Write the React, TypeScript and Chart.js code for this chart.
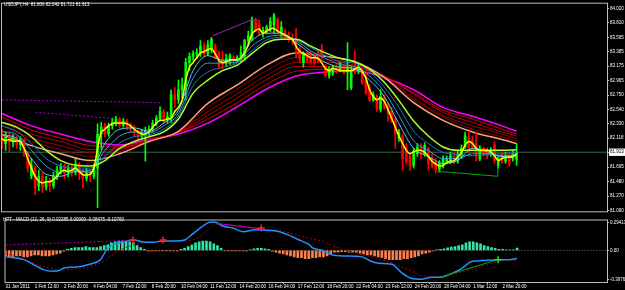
import React, { useEffect, useRef } from "react";
import { Chart, registerables } from "chart.js";

Chart.register(...registerables);

const SYMBOL_TITLE = "USDJPY,H4  81.806 82.042 81.721 81.913";
const MACD_TITLE = "HPT - MACD (12, 26, 9) 0.02285 0.00000 -0.08475 -0.10760";

// ---- H4 candles (bar index 0 = 31 Jan 2011) ----
const OPEN = [
  82.18, 82.04, 82.14, 82.07, 82.12, 82.02, 82.10, 81.89, 81.56, 81.68,
  81.42, 81.56, 81.40, 81.49, 81.42, 81.56, 81.65, 81.71, 81.61, 81.68,
  81.62, 81.74, 81.59, 81.53, 81.61, 81.56, 81.68, 82.18, 82.31, 82.18,
  82.30, 82.35, 82.40, 82.31, 82.37, 82.30, 82.25, 82.20, 82.15, 82.20,
  82.22, 82.25, 82.34, 82.41, 82.51, 82.40, 82.40, 82.76, 82.68, 82.83,
  82.90, 83.23, 83.32, 83.36, 83.37, 83.47, 83.36, 83.43, 83.47, 83.37,
  83.29, 83.23, 83.22, 83.30, 83.26, 83.26, 83.29, 83.55, 83.57, 83.83,
  83.78, 83.65, 83.69, 83.72, 83.78, 83.86, 83.65, 83.69, 83.63, 83.60,
  83.57, 83.43, 83.23, 83.37, 83.36, 83.35, 83.37, 83.43, 83.17, 83.04,
  83.07, 83.16, 83.11, 83.17, 83.09, 82.86, 83.17, 83.09, 83.11, 82.97,
  82.86, 82.68, 82.73, 82.54, 82.71, 82.60, 82.51, 82.40, 82.11, 82.14,
  81.99, 81.85, 81.72, 81.89, 81.99, 81.89, 81.97, 81.82, 81.76, 81.66,
  81.71, 81.78, 81.78, 81.86, 81.79, 81.85, 81.99, 82.14, 82.10, 82.04,
  81.82, 81.97, 81.94, 81.88, 82.02, 81.72, 81.89, 81.78, 81.85, 81.81,
  81.806,
];
const HIGH = [
  82.25, 82.21, 82.20, 82.17, 82.15, 82.14, 82.11, 81.92, 81.82, 81.71,
  81.65, 81.61, 81.56, 81.53, 81.62, 81.71, 81.75, 81.74, 81.72, 81.71,
  81.82, 81.76, 81.65, 81.68, 81.66, 81.74, 82.33, 82.35, 82.34, 82.34,
  82.41, 82.44, 82.43, 82.41, 82.40, 82.34, 82.31, 82.24, 82.25, 82.28,
  82.30, 82.38, 82.45, 82.58, 82.54, 82.50, 82.83, 82.86, 82.97, 83.00,
  83.29, 83.37, 83.40, 83.43, 83.55, 83.52, 83.55, 83.60, 83.50, 83.40,
  83.40, 83.35, 83.36, 83.33, 83.33, 83.47, 83.57, 83.69, 83.90, 83.88,
  83.85, 83.75, 83.78, 83.89, 83.95, 83.89, 83.83, 83.72, 83.68, 83.65,
  83.73, 83.46, 83.39, 83.40, 83.39, 83.37, 83.40, 83.50, 83.20, 83.17,
  83.19, 83.20, 83.23, 83.20, 83.52, 83.17, 83.40, 83.20, 83.14, 83.11,
  82.90, 82.80, 82.76, 82.83, 82.76, 82.64, 82.57, 82.43, 82.25, 82.18,
  82.04, 81.89, 81.97, 82.04, 82.04, 82.05, 81.99, 81.89, 81.82, 81.79,
  81.86, 81.86, 81.91, 81.91, 81.94, 82.02, 82.21, 82.22, 82.15, 82.20,
  82.01, 81.99, 81.98, 81.98, 82.07, 81.85, 81.92, 81.91, 81.89, 81.94,
  82.042,
];
const LOW = [
  81.97, 81.94, 81.92, 81.99, 81.97, 81.94, 81.85, 81.62, 81.52, 81.29,
  81.35, 81.32, 81.36, 81.33, 81.38, 81.51, 81.59, 81.53, 81.55, 81.56,
  81.58, 81.51, 81.39, 81.49, 81.48, 81.52, 81.10, 81.97, 82.14, 82.15,
  82.25, 82.30, 82.27, 82.28, 82.24, 82.20, 82.14, 82.10, 82.11, 81.78,
  82.15, 82.21, 82.30, 82.37, 82.34, 82.34, 82.35, 82.57, 82.63, 82.71,
  82.68, 83.11, 83.26, 83.29, 83.32, 83.32, 83.33, 83.37, 83.29, 83.14,
  83.14, 83.17, 83.20, 83.19, 83.23, 83.23, 83.26, 83.47, 83.55, 83.68,
  83.63, 83.60, 83.65, 83.68, 83.66, 83.66, 83.59, 83.56, 83.53, 83.50,
  83.30, 83.23, 83.16, 83.23, 83.20, 83.19, 83.23, 83.29, 83.01, 83.00,
  83.04, 83.07, 83.09, 83.06, 82.83, 82.83, 83.06, 83.06, 82.91, 82.76,
  82.66, 82.66, 82.51, 82.50, 82.54, 82.37, 82.35, 81.97, 82.07, 81.65,
  81.74, 81.65, 81.68, 81.85, 81.82, 81.85, 81.65, 81.68, 81.61, 81.62,
  81.68, 81.74, 81.74, 81.74, 81.75, 81.82, 81.97, 81.89, 81.97, 81.78,
  81.79, 81.85, 81.82, 81.85, 81.75, 81.68, 81.75, 81.75, 81.71, 81.78,
  81.721,
];
const CLOSE = [
  82.04, 82.14, 82.07, 82.12, 82.02, 82.10, 81.89, 81.68, 81.71, 81.39,
  81.56, 81.39, 81.49, 81.42, 81.56, 81.65, 81.71, 81.61, 81.68, 81.62,
  81.74, 81.59, 81.53, 81.61, 81.56, 81.68, 82.18, 82.28, 82.18, 82.30,
  82.35, 82.40, 82.31, 82.37, 82.30, 82.25, 82.20, 82.15, 82.20, 82.22,
  82.25, 82.34, 82.41, 82.51, 82.40, 82.44, 82.76, 82.68, 82.83, 82.90,
  83.23, 83.32, 83.36, 83.37, 83.47, 83.36, 83.49, 83.57, 83.32, 83.17,
  83.20, 83.29, 83.33, 83.26, 83.30, 83.37, 83.55, 83.62, 83.86, 83.72,
  83.66, 83.70, 83.75, 83.83, 83.92, 83.69, 83.75, 83.60, 83.57, 83.55,
  83.43, 83.29, 83.36, 83.26, 83.23, 83.22, 83.26, 83.32, 83.04, 83.14,
  83.16, 83.10, 83.22, 83.07, 83.16, 83.11, 83.09, 83.16, 82.94, 82.78,
  82.68, 82.76, 82.54, 82.73, 82.57, 82.50, 82.40, 82.18, 82.20, 81.82,
  81.78, 81.71, 81.92, 81.99, 81.88, 82.01, 81.75, 81.72, 81.65, 81.75,
  81.82, 81.82, 81.86, 81.78, 81.89, 81.97, 82.15, 81.97, 81.99, 81.89,
  81.97, 81.89, 81.85, 81.94, 81.79, 81.82, 81.78, 81.86, 81.74, 81.89,
  81.913,
];

// ---- fast moving average (yellow), one value per bar ----
const YELLOW = [
  82.11, 82.08, 82.10, 82.07, 82.08, 82.07, 81.97, 81.82, 81.68, 81.56,
  81.49, 81.46, 81.48, 81.48, 81.51, 81.56, 81.63, 81.65, 81.63, 81.65,
  81.68, 81.63, 81.58, 81.58, 81.59, 81.68, 81.97, 82.21, 82.25, 82.30,
  82.33, 82.34, 82.34, 82.34, 82.33, 82.30, 82.25, 82.21, 82.18, 82.18,
  82.21, 82.28, 82.34, 82.38, 82.38, 82.40, 82.41, 82.51, 82.57, 82.68,
  82.97, 83.16, 83.23, 83.30, 83.37, 83.39, 83.42, 83.43, 83.36, 83.26,
  83.23, 83.24, 83.27, 83.27, 83.27, 83.30, 83.37, 83.49, 83.65, 83.70,
  83.72, 83.66, 83.69, 83.72, 83.73, 83.69, 83.66, 83.63, 83.60, 83.57,
  83.47, 83.39, 83.36, 83.33, 83.30, 83.30, 83.29, 83.22, 83.14, 83.11,
  83.14, 83.13, 83.11, 83.11, 83.11, 83.11, 83.13, 83.16, 83.10, 83.00,
  82.83, 82.73, 82.68, 82.71, 82.66, 82.54, 82.41, 82.28, 82.15, 82.04,
  81.94, 81.89, 81.92, 81.94, 81.94, 81.91, 81.85, 81.78, 81.74, 81.71,
  81.72, 81.76, 81.78, 81.79, 81.84, 81.91, 82.02, 82.07, 82.04, 81.97,
  81.94, 81.94, 81.94, 81.92, 81.86, 81.79, 81.82, 81.84, 81.84, 81.85,
  81.89,
];

// ---- medium ribbon, read every 4 bars ----
const SAMPLE4 = [0, 4, 8, 12, 16, 20, 24, 28, 32, 36, 40, 44, 48, 52, 56, 60, 64, 68, 72, 76, 80, 84, 88, 92, 96, 100, 104, 108, 112, 116, 120, 124, 128, 132, 136, 140];
const BLUE1 = [82.17, 82.11, 81.82, 81.59, 81.56, 81.63, 81.62, 82.04, 82.25, 82.27, 82.22, 82.34, 82.53, 83.11, 83.33, 83.26, 83.26, 83.55, 83.66, 83.66, 83.52, 83.36, 83.23, 83.16, 83.14, 82.97, 82.73, 82.33, 81.97, 81.85, 81.75, 81.79, 81.97, 81.92, 81.85, 81.86];
const BLUE2 = [82.22, 82.17, 81.94, 81.71, 81.62, 81.65, 81.65, 81.94, 82.15, 82.21, 82.20, 82.30, 82.48, 83.00, 83.22, 83.22, 83.24, 83.47, 83.60, 83.63, 83.55, 83.40, 83.29, 83.20, 83.17, 83.03, 82.80, 82.45, 82.08, 81.94, 81.82, 81.82, 81.89, 81.89, 81.86, 81.88];
const BLUE3 = [82.30, 82.22, 82.04, 81.82, 81.71, 81.68, 81.68, 81.85, 82.05, 82.14, 82.17, 82.25, 82.44, 82.89, 83.09, 83.16, 83.22, 83.40, 83.56, 83.60, 83.56, 83.45, 83.33, 83.24, 83.22, 83.09, 82.87, 82.57, 82.22, 82.04, 81.91, 81.88, 81.86, 81.88, 81.89, 81.91];
const LIME = [82.35, 82.28, 82.14, 81.94, 81.79, 81.72, 81.71, 81.79, 81.97, 82.07, 82.14, 82.21, 82.40, 82.78, 82.97, 83.11, 83.19, 83.36, 83.52, 83.57, 83.57, 83.47, 83.37, 83.29, 83.24, 83.13, 82.94, 82.67, 82.37, 82.15, 81.99, 81.94, 81.94, 81.94, 81.94, 81.95];

// ---- slow ribbon, read every 8 bars ----
const SAMPLE8 = [0, 8, 16, 24, 32, 40, 48, 56, 64, 72, 80, 88, 96, 104, 112, 120, 128, 136, 140];
const SALMON = [82.17, 82.01, 81.89, 81.79, 81.89, 82.07, 82.22, 82.63, 82.90, 83.19, 83.37, 83.32, 83.24, 83.01, 82.64, 82.38, 82.21, 82.10, 82.04];
const RED1 = [82.22, 82.07, 81.95, 81.85, 81.92, 82.07, 82.21, 82.57, 82.84, 83.11, 83.30, 83.27, 83.22, 83.00, 82.68, 82.43, 82.25, 82.14, 82.08];
const RED2 = [82.30, 82.12, 82.01, 81.91, 81.95, 82.08, 82.21, 82.51, 82.77, 83.04, 83.23, 83.23, 83.19, 83.01, 82.71, 82.45, 82.30, 82.18, 82.11];
const RED3 = [82.35, 82.18, 82.07, 81.95, 81.97, 82.08, 82.20, 82.45, 82.71, 82.98, 83.17, 83.17, 83.17, 83.03, 82.76, 82.50, 82.35, 82.21, 82.15];
const RED4 = [82.43, 82.24, 82.12, 82.01, 81.99, 82.10, 82.20, 82.40, 82.64, 82.91, 83.10, 83.13, 83.14, 83.03, 82.78, 82.53, 82.40, 82.25, 82.18];
const MAGENTA = [82.48, 82.30, 82.18, 82.07, 82.02, 82.10, 82.18, 82.34, 82.58, 82.84, 83.03, 83.09, 83.11, 83.01, 82.83, 82.57, 82.44, 82.30, 82.22];

// ---- trend lines on price window: [bar index, price] ----
const TL_PRICE_DOT1 = [[0, 82.68], [43.1, 82.64]];
const TL_PRICE_DOT2 = [[9.1, 82.5], [29.5, 82.41]];
const TL_PRICE_PEAK = [[57.3, 83.62], [67.6, 83.85], [69.8, 83.85]];
const TL_PRICE_LOW = [[118.5, 81.63], [121.5, 81.62], [134.8, 81.56], [134.9, 81.71]];

// ---- MACD window ----
const HIST = [
  -0.059, -0.069, -0.069, -0.059, -0.059, -0.069, -0.069, -0.059, -0.049, -0.049,
  -0.059, -0.059, -0.059, -0.049, -0.039, -0.029, -0.010,
  0.010, 0.020, 0.029, 0.029, 0.029, 0.039, 0.029, 0.029, 0.029, 0.039, 0.049, 0.059,
  0.078, 0.088, 0.098, 0.098, 0.098, 0.088, 0.078, 0.049, 0.029, 0.010,
  -0.005, -0.005, -0.005, -0.005, -0.005, -0.005, -0.005, -0.005, -0.005,
  0.010, 0.020, 0.039, 0.059, 0.078, 0.088, 0.098, 0.098, 0.088, 0.069, 0.049, 0.020,
  -0.005, -0.005, -0.005, -0.005, -0.005, -0.005, -0.005,
  0.005, 0.015, 0.020, 0.020, 0.015, 0.010,
  -0.010, -0.020, -0.029, -0.039, -0.049, -0.059, -0.069, -0.078, -0.078, -0.088,
  -0.088, -0.078, -0.078, -0.069,
  -0.069, -0.059, -0.039, -0.020, -0.020, -0.015, -0.015, -0.020, -0.020, -0.020, -0.029,
  -0.039, -0.049, -0.049, -0.059, -0.069, -0.078, -0.088, -0.098, -0.098, -0.098,
  -0.098, -0.088, -0.088, -0.078, -0.069, -0.059, -0.039, -0.029, -0.020, -0.005,
  0.005, 0.010, 0.015, 0.025, 0.034, 0.039, 0.049, 0.059, 0.078, 0.088,
  0.088, 0.078, 0.069, 0.049, 0.039, 0.029, 0.020, 0.010, 0.010, 0.005,
  0.005, 0.005, 0.023,
];
const MACD_IDX = [0, 5, 8.5, 10.5, 13, 14.5, 16, 19.5, 23, 26, 27.6, 29.5, 32.2, 35, 37.7, 40.4, 43, 46.6, 49, 51.3, 54, 55.9, 57.5, 59.4, 62.2, 64.9, 68.4, 72.2, 75, 77.7, 80.4, 83.1, 83.9, 86.6, 89.4, 92.1, 97.5, 100.2, 102.2, 105.7, 108.4, 111, 113.8, 116.6, 119.3, 122, 124.7, 127.5, 130.2, 134.8, 137.5, 140];
const MACD_VAL = [-0.069, -0.098, -0.167, -0.206, -0.219, -0.216, -0.186, -0.176, -0.147, -0.098, 0, 0.059, 0.088, 0.108, 0.088, 0.085, 0.098, 0.098, 0.108, 0.176, 0.255, 0.294, 0.294, 0.255, 0.235, 0.196, 0.216, 0.209, 0.196, 0.157, 0.108, 0.059, 0.029, 0, -0.049, -0.059, -0.069, -0.118, -0.137, -0.147, -0.235, -0.294, -0.304, -0.284, -0.284, -0.245, -0.196, -0.118, -0.108, -0.098, -0.098, -0.085];
const SIG_IDX = [0, 15.9, 21.3, 26.8, 29.5, 34.1, 37.7, 42.3, 48.5, 51.3, 54, 57.5, 70.3, 76.6, 81.2, 84, 86.6, 89.4, 94.8, 100.2, 105.7, 111.1, 115.2, 119.3, 122.8, 127.5, 132.1, 136.4, 140];
const SIG_VAL = [-0.03, -0.206, -0.183, -0.118, -0.036, 0.046, 0.078, 0.095, 0.095, 0.111, 0.167, 0.274, 0.225, 0.193, 0.144, 0.118, 0.095, 0.049, -0.02, -0.069, -0.134, -0.216, -0.281, -0.274, -0.245, -0.199, -0.15, -0.101, -0.108];
const TL_MACD_DOT = [[0, 0.056], [34.9, 0.105]];
const TL_MACD_PEAK = [[57.5, 0.284], [70.3, 0.225]];
const TL_MACD_LOW = [[118.8, -0.284], [134.8, -0.098]];
const SELL_MARKS = [[34.9, 0.108], [43.1, 0.108], [70, 0.235]];
const BUY_MARKS = [[134.8, -0.098]];

// ---- axes ----
const PRICE_TICKS = [84.02, 83.81, 83.595, 83.385, 83.175, 82.965, 82.75, 82.54, 82.33, 82.118, 81.913, 81.695, 81.48, 81.27, 81.06];
const MACD_TICKS = [0.294, 0, -0.3087];
const MACD_TICK_LABELS = ["0.29413", "0.00", "-0.39762"];
const DATE_IDX = [0, 8, 16, 24, 32, 40, 48, 56, 64, 72, 80, 88, 96, 104, 112, 120, 128, 136];
const DATE_LABELS = ["31 Jan 2011", "1 Feb 12:00", "2 Feb 20:00", "4 Feb 04:00", "7 Feb 12:00", "8 Feb 20:00", "10 Feb 04:00", "11 Feb 12:00", "14 Feb 20:00", "16 Feb 04:00", "17 Feb 12:00", "18 Feb 20:00", "22 Feb 04:00", "23 Feb 12:00", "24 Feb 20:00", "28 Feb 04:00", "1 Mar 12:00", "2 Mar 20:00"];

const PRICE_MIN = 81.046;
const PRICE_MAX = 84.092;
const MACD_MIN = -0.3332;
const MACD_MAX = 0.3136;
const X_MIN = 0;
const X_MAX = 164.6;

const FONT = "'Liberation Sans', Arial, sans-serif";
const FS = 4.5;
const FRAME = "#bdbdbd";
const BULL = "#00FF00";
const BEAR = "#FF0000";

const CUR = CLOSE[CLOSE.length - 1];

const xy = (xs: number[], ys: number[]) => xs.map((x, i) => ({ x, y: ys[i] }));
const pairs = (p: number[][]) => p.map(([x, y]) => ({ x, y }));

function line(label: string, data: any[], color: string, width: number, order: number, extra: any = {}) {
  return {
    type: "line",
    label,
    data,
    borderColor: color,
    backgroundColor: color,
    borderWidth: width,
    pointRadius: 0,
    fill: false,
    order,
    ...extra,
  };
}

const framePlugin = {
  id: "frame",
  afterDraw(chart: any) {
    const { ctx, chartArea: a } = chart;
    ctx.save();
    ctx.strokeStyle = FRAME;
    ctx.lineWidth = 1;
    ctx.strokeRect(a.left - 0.5, a.top - 0.5, a.right - a.left + 1, a.bottom - a.top + 1);
    ctx.restore();
  },
};

function mainConfig(): any {
  const idx = OPEN.map((_, i) => i);
  const smooth = { cubicInterpolationMode: "monotone" };
  return {
    type: "bar",
    data: {
      datasets: [
        line("trend dot 1", pairs(TL_PRICE_DOT1), "#A000C0", 1, 0, { borderDash: [2, 2] }),
        line("trend dot 2", pairs(TL_PRICE_DOT2), "#A000C0", 1, 0, { borderDash: [2, 2] }),
        line("trend peaks", pairs(TL_PRICE_PEAK), "#A020C0", 1, 0),
        line("trend lows", pairs(TL_PRICE_LOW), "#00B000", 1, 0),
        line("fast MA", xy(idx, YELLOW), "#FFFF00", 1.5, 1, { tension: 0.2 }),
        line("MA lime", xy(SAMPLE4, LIME), "#ADFF2F", 1.5, 2, smooth),
        line("MA blue 1", xy(SAMPLE4, BLUE1), "#58CCF2", 1, 3, smooth),
        line("MA blue 2", xy(SAMPLE4, BLUE2), "#2E9FD8", 1, 3, smooth),
        line("MA blue 3", xy(SAMPLE4, BLUE3), "#1E78B4", 1, 3, smooth),
        {
          type: "bar",
          label: "body",
          data: idx.map((i) => ({ x: i, y: [OPEN[i], CLOSE[i]] })),
          backgroundColor: (c: any) => (CLOSE[c.dataIndex] >= OPEN[c.dataIndex] ? BULL : BEAR),
          borderWidth: 0,
          barThickness: 2,
          minBarLength: 1,
          grouped: false,
          order: 4,
        },
        {
          type: "bar",
          label: "wick",
          data: idx.map((i) => ({ x: i, y: [LOW[i], HIGH[i]] })),
          backgroundColor: (c: any) => (CLOSE[c.dataIndex] >= OPEN[c.dataIndex] ? BULL : BEAR),
          borderWidth: 0,
          barThickness: 1,
          grouped: false,
          order: 5,
        },
        line("MA salmon", xy(SAMPLE8, SALMON), "#FFA07A", 1.5, 6, smooth),
        line("MA red 1", xy(SAMPLE8, RED1), "#8B0000", 1, 6, smooth),
        line("MA red 2", xy(SAMPLE8, RED2), "#A00000", 1, 6, smooth),
        line("MA red 3", xy(SAMPLE8, RED3), "#B80000", 1, 6, smooth),
        line("MA red 4", xy(SAMPLE8, RED4), "#D40000", 1, 6, smooth),
        line("MA magenta", xy(SAMPLE8, MAGENTA), "#FF00FF", 1.5, 6, smooth),
        line("bid", [{ x: X_MIN, y: CUR }, { x: X_MAX, y: CUR }], "#2E6B4E", 1, 7),
      ],
    },
    options: {
      animation: false,
      responsive: false,
      devicePixelRatio: 1,
      events: [],
      layout: { padding: { left: 2, top: 2, right: 0, bottom: 1 } },
      plugins: { legend: { display: false }, tooltip: { enabled: false } },
      scales: {
        x: { type: "linear", display: false, min: X_MIN, max: X_MAX, offset: false },
        y: {
          type: "linear",
          position: "right",
          min: PRICE_MIN,
          max: PRICE_MAX,
          afterBuildTicks: (s: any) => {
            s.ticks = PRICE_TICKS.map((v) => ({ value: v }));
          },
          afterFit: (s: any) => {
            s.width = 18;
          },
          border: { display: false },
          grid: { drawOnChartArea: false, drawTicks: true, tickLength: 2, color: FRAME },
          ticks: {
            autoSkip: false,
            padding: 1,
            font: { family: FONT, size: FS },
            color: (c: any) => (c.tick && c.tick.value === CUR ? "#000000" : "#FFFFFF"),
            showLabelBackdrop: (c: any) => !!(c.tick && c.tick.value === CUR),
            backdropColor: "#FFFFFF",
            backdropPadding: { top: 1, bottom: 1, left: 1, right: 2 },
            callback: (v: any) => Number(v).toFixed(3),
          },
        },
      },
    },
    plugins: [framePlugin],
  };
}

function macdConfig(): any {
  const idx = HIST.map((_, i) => i);
  return {
    type: "bar",
    data: {
      datasets: [
        line("sell marks", pairs(SELL_MARKS), "#FF2020", 1.5, 0, { showLine: false, pointStyle: "cross", pointRadius: 3.5 }),
        line("buy marks", pairs(BUY_MARKS), "#20E020", 1.5, 0, { showLine: false, pointStyle: "cross", pointRadius: 3.5 }),
        line("div dot", pairs(TL_MACD_DOT), "#A000C0", 1, 1, { borderDash: [2, 2] }),
        line("div peak", pairs(TL_MACD_PEAK), "#C000C0", 1, 1),
        line("div low", pairs(TL_MACD_LOW), "#00B000", 1, 1),
        line("MACD", xy(MACD_IDX, MACD_VAL), "#1E90FF", 1.5, 2, { cubicInterpolationMode: "monotone" }),
        line("signal", xy(SIG_IDX, SIG_VAL), "#B00000", 1, 3, { borderDash: [2, 2], cubicInterpolationMode: "monotone" }),
        {
          type: "bar",
          label: "histogram",
          data: idx.map((i) => ({ x: i, y: HIST[i] })),
          backgroundColor: (c: any) => (HIST[c.dataIndex] >= 0 ? "#2EE6A6" : "#FF7F50"),
          borderWidth: 0,
          barThickness: 2,
          grouped: false,
          order: 4,
        },
        line("zero", [{ x: X_MIN, y: 0 }, { x: X_MAX, y: 0 }], "#8A7A55", 1, 5, { borderDash: [1, 2] }),
      ],
    },
    options: {
      animation: false,
      responsive: false,
      devicePixelRatio: 1,
      events: [],
      layout: { padding: { left: 2, top: 1, right: 0, bottom: 0 } },
      plugins: { legend: { display: false }, tooltip: { enabled: false } },
      scales: {
        x: {
          type: "linear",
          position: "bottom",
          min: X_MIN,
          max: X_MAX,
          offset: false,
          afterBuildTicks: (s: any) => {
            s.ticks = DATE_IDX.map((v) => ({ value: v }));
          },
          afterFit: (s: any) => {
            s.height = 8;
          },
          border: { display: false },
          grid: { drawOnChartArea: false, drawTicks: true, tickLength: 2, color: FRAME },
          ticks: {
            autoSkip: false,
            maxRotation: 0,
            minRotation: 0,
            align: "start",
            padding: 0,
            color: "#FFFFFF",
            font: { family: FONT, size: FS },
            callback: (v: any) => DATE_LABELS[DATE_IDX.indexOf(Number(v))] ?? "",
          },
        },
        y: {
          type: "linear",
          position: "right",
          min: MACD_MIN,
          max: MACD_MAX,
          afterBuildTicks: (s: any) => {
            s.ticks = MACD_TICKS.map((v) => ({ value: v }));
          },
          afterFit: (s: any) => {
            s.width = 18;
          },
          border: { display: false },
          grid: { drawOnChartArea: false, drawTicks: true, tickLength: 2, color: FRAME },
          ticks: {
            autoSkip: false,
            padding: 1,
            color: "#FFFFFF",
            font: { family: FONT, size: FS },
            callback: (v: any) => MACD_TICK_LABELS[MACD_TICKS.indexOf(Number(v))] ?? "",
          },
        },
      },
    },
    plugins: [framePlugin],
  };
}

const textStyle = (top: number): React.CSSProperties => ({
  position: "absolute",
  left: 4,
  top,
  fontFamily: FONT,
  fontSize: FS,
  lineHeight: "5px",
  color: "#FFFFFF",
  whiteSpace: "pre",
  pointerEvents: "none",
});

export default function App() {
  const mainRef = useRef<HTMLCanvasElement>(null);
  const macdRef = useRef<HTMLCanvasElement>(null);

  useEffect(() => {
    const main = new Chart(mainRef.current as HTMLCanvasElement, mainConfig());
    const macd = new Chart(macdRef.current as HTMLCanvasElement, macdConfig());
    return () => {
      main.destroy();
      macd.destroy();
    };
  }, []);

  return (
    <div style={{ position: "fixed", left: 0, top: 0, width: 625, height: 290, background: "#000000", overflow: "hidden" }}>
      <canvas ref={mainRef} width={625} height={215} style={{ position: "absolute", left: 0, top: 0, width: 625, height: 215 }} />
      <canvas ref={macdRef} width={625} height={75} style={{ position: "absolute", left: 0, top: 215, width: 625, height: 75 }} />
      <div style={textStyle(2)}>{SYMBOL_TITLE}</div>
      <div style={{ ...textStyle(217), left: 3 }}>{MACD_TITLE}</div>
    </div>
  );
}
